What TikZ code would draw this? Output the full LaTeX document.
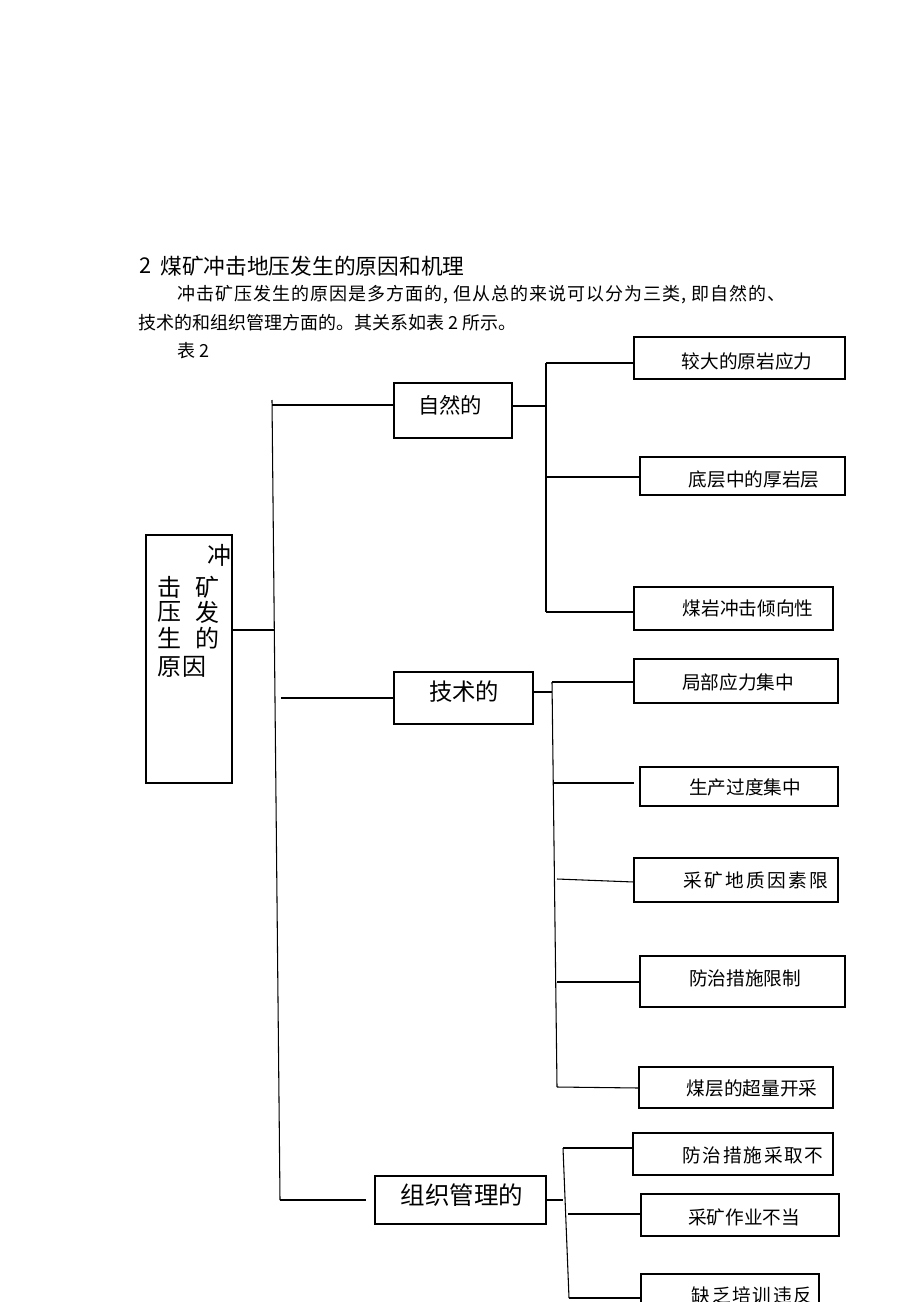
\documentclass[tikz,border=0pt]{standalone}
\usepackage{fontspec}
\setmainfont{Noto Sans CJK SC}
\newfontfamily\cjkls[LetterSpace=12]{Noto Sans CJK SC}
\newfontfamily\cjklsb[LetterSpace=9]{Noto Sans CJK SC}
\newfontfamily\cjklsp[LetterSpace=5.5]{Noto Sans CJK SC}
\usetikzlibrary{fit}
\begin{document}
\begin{tikzpicture}[x=0.75pt,y=-0.75pt,
  box/.style={draw,line width=0.8pt,inner sep=0pt,outer sep=0pt},
  ln/.style={line width=0.8pt},
  lbl/.style={inner sep=0pt,font=\fontsize{14}{16}\selectfont},
  body/.style={inner sep=0pt,anchor=west,font=\fontsize{13.5}{16}\selectfont},
  headf/.style={inner sep=0pt,anchor=west,font=\fontsize{16.3}{19}\selectfont},
  rootch/.style={inner sep=0pt,font=\fontsize{18}{20}\selectfont}]
\useasboundingbox (0,0) rectangle (920,1302);
\clip (0,0) rectangle (920,1302);

% heading and paragraph
\node[headf] (headn) at (139,266) {2};
\node[headf] (head) at (160,266) {煤矿冲击地压发生的原因和机理};
\node[body] (p1) at (177,295) {\cjklsp 冲击矿压发生的原因是多方面的, 但从总的来说可以分为三类, 即自然的、};
\node[body] (p2) at (138,323) {技术的和组织管理方面的。其关系如表 2 所示。};
\node[body] (p3) at (177,351) {表 2};

% root
\node[box, fit={(146,535)(232,783)}] (root) {};
\node[rootch] (r1) at (219,555) {冲};
\node[rootch] (r2) at (169,587) {击};
\node[rootch] (r3) at (207,587) {矿};
\node[rootch] (r4) at (169,612) {压};
\node[rootch] (r5) at (207,612) {发};
\node[rootch] (r6) at (169,638) {生};
\node[rootch] (r7) at (207,638) {的};
\node[rootch] (r8) at (169,667) {原};
\node[rootch] (r9) at (194,667) {因};

\coordinate (rt) at (274,630);
\draw[ln] (root.east |- rt) -- (rt);
\coordinate (T0) at (272,400);
\coordinate (T1) at (280,1200);
\draw[ln] (T0) -- (T1);

% natural
\node[box, fit={(394,383)(512,438)}] (nat) {};
\node[inner sep=0pt,font=\fontsize{16}{18}\selectfont] (natl) at (450,405) {自然的};
\coordinate (tn) at (272,405);
\draw[ln] (tn) -- (nat.west |- tn);
\coordinate (sn) at (546,406);
\draw[ln] (nat.east |- sn) -- (sn);
\coordinate (sn0) at (546,363);
\coordinate (sn1) at (546,612);
\coordinate (sn2) at (546,477);
\draw[ln] (sn0) -- (sn1);

\node[box, fit={(634,337)(845,379)}] (c1) {};
\node[lbl] (c1l) at (747,361) {较大的原岩应力};
\draw[ln] (sn0) -- (c1.west |- sn0);
\node[box, fit={(640,457)(845,495)}] (c2) {};
\node[lbl] (c2l) at (754,479) {底层中的厚岩层};
\draw[ln] (sn2) -- (c2.west |- sn2);
\node[box, fit={(634,587)(833,630)}] (c3) {};
\node[lbl] (c3l) at (748,608) {煤岩冲击倾向性};
\draw[ln] (sn1) -- (c3.west |- sn1);

% technical
\node[box, fit={(394,672)(533,724)}] (tec) {};
\node[inner sep=0pt,font=\fontsize{17.5}{20}\selectfont] (tecl) at (464,692) {技术的};
\coordinate (tj) at (281,698);
\draw[ln] (tj) -- (tec.west |- tj);
\coordinate (sj) at (552,692);
\draw[ln] (tec.east |- sj) -- (sj);
\coordinate (sj0) at (552,682);
\coordinate (sj1) at (557,1087);
\draw[ln] (sj0) -- (sj1);

\node[box, fit={(634,659)(838,703)}] (d1) {};
\node[lbl] (d1l) at (738,682) {局部应力集中};
\draw[ln] (sj0) -- (d1.west |- sj0);

\node[box, fit={(640,767)(838,806)}] (d2) {};
\node[lbl] (d2l) at (745,787) {生产过度集中};
\coordinate (a2) at (553,783);
\coordinate (b2) at (634,783);
\draw[ln] (a2) -- (b2);

\node[box, fit={(634,858)(838,902)}] (d3) {};
\node[lbl] (d3l) at (756,880) {\cjkls 采矿地质因素限};
\coordinate (a3) at (557,879);
\coordinate (b3) at (0,882);
\draw[ln] (a3) -- (d3.west |- b3);

\node[box, fit={(640,956)(845,1007)}] (d4) {};
\node[lbl] (d4l) at (745,978) {防治措施限制};
\coordinate (a4) at (557,982);
\draw[ln] (a4) -- (d4.west |- a4);

\node[box, fit={(639,1067)(833,1108)}] (d5) {};
\node[lbl] (d5l) at (752,1088) {煤层的超量开采};
\coordinate (b5) at (0,1088);
\draw[ln] (sj1) -- (d5.west |- b5);

% organisational
\node[box, fit={(375,1176)(546,1224)}] (org) {};
\node[inner sep=0pt,font=\fontsize{18.4}{21}\selectfont] (orgl) at (462,1195) {组织管理的};
\coordinate (tz) at (366,1200);
\draw[ln] (T1) -- (tz);
\coordinate (sz) at (563,1200);
\draw[ln] (org.east |- sz) -- (sz);
\coordinate (sz0) at (563,1148);
\coordinate (sz1) at (569,1298);
\draw[ln] (sz0) -- (sz1);

\node[box, fit={(633,1133)(833,1175)}] (e1) {};
\node[lbl] (e1l) at (753,1155) {\cjklsb 防治措施采取不};
\draw[ln] (sz0) -- (e1.west |- sz0);

\node[box, fit={(641,1194)(839,1236)}] (e2) {};
\node[lbl] (e2l) at (744,1217) {采矿作业不当};
\coordinate (a6) at (568,1214);
\draw[ln] (a6) -- (e2.west |- a6);

\node[box, fit={(641,1274)(819,1330)}] (e3) {};
\node[lbl] (e3l) at (752,1295) {\cjklsb 缺乏培训违反};
\draw[ln] (sz1) -- (e3.west |- sz1);
\end{tikzpicture}
\end{document}
